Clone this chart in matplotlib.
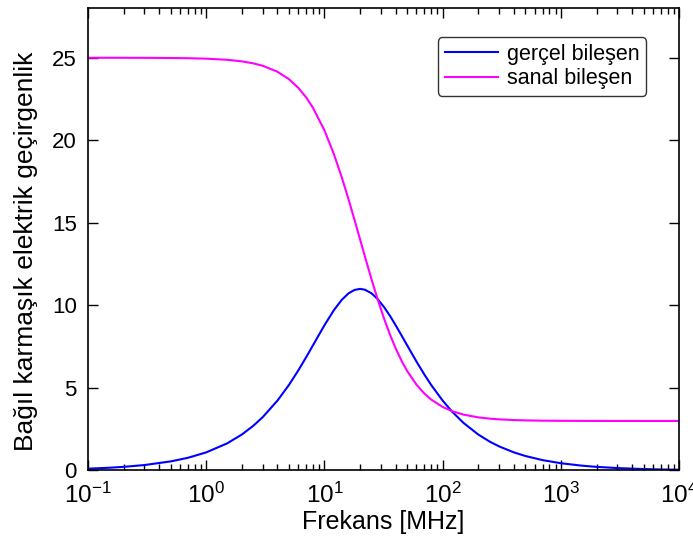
import matplotlib
matplotlib.use("Agg")
import matplotlib.pyplot as plt
from matplotlib.ticker import LogLocator, NullFormatter, FixedLocator

plt.rcParams['font.family'] = ['Liberation Sans', 'DejaVu Sans']
plt.rcParams['mathtext.fontset'] = 'custom'
plt.rcParams['mathtext.rm'] = 'Liberation Sans'
plt.rcParams['mathtext.it'] = 'Liberation Sans'
plt.rcParams['mathtext.default'] = 'regular'
plt.rcParams['axes.unicode_minus'] = False

freq_mhz = [0.1, 0.15, 0.2, 0.3, 0.5, 0.7, 1, 1.5, 2, 2.5, 3, 4, 5, 6, 7, 8, 10, 12, 14, 16,
            18, 20, 22, 25, 28, 32, 36, 40, 45, 50, 60, 70, 80, 100, 120, 150, 200, 250,
            300, 400, 500, 700, 1000, 1500, 2000, 3000, 5000, 7000, 10000]
gercel = [0.110, 0.165, 0.220, 0.330, 0.550, 0.769, 1.097, 1.641, 2.178, 2.708, 3.227, 4.231,
          5.176, 6.055, 6.860, 7.586, 8.800, 9.706, 10.336, 10.732, 10.939, 11.000, 10.950,
          10.732, 10.405, 9.888, 9.340, 8.800, 8.165, 7.586, 6.600, 5.811, 5.176, 4.231,
          3.568, 2.882, 2.178, 1.749, 1.460, 1.097, 0.879, 0.628, 0.440, 0.293, 0.220,
          0.147, 0.088, 0.063, 0.044]
sanal = [25.000, 25.000, 24.998, 24.995, 24.986, 24.973, 24.945, 24.877, 24.782, 24.662,
         24.516, 24.154, 23.706, 23.183, 22.599, 21.966, 20.600, 19.176, 17.765, 16.415,
         15.155, 14.000, 12.955, 11.585, 10.432, 9.180, 8.189, 7.400, 6.629, 6.034, 5.200,
         4.660, 4.294, 3.846, 3.595, 3.384, 3.218, 3.140, 3.097, 3.055, 3.035, 3.018,
         3.009, 3.004, 3.002, 3.001, 3.000, 3.000, 3.000]
series_labels = ['gerçel bileşen', 'sanal bileşen']
y_ticks = [0, 5, 10, 15, 20, 25]
x_ticks = [0.1, 1, 10, 100, 1000, 10000]
x_ticklabels = ['$10^{-1}$', '$10^{0}$', '$10^{1}$', '$10^{2}$', '$10^{3}$', '$10^{4}$']

fig = plt.figure(figsize=(6.93, 5.49), dpi=100)
ax = fig.add_axes([0.127, 0.143, 0.853, 0.842])
ax.plot(freq_mhz, gercel, color='#0000ff', lw=1.5, label=series_labels[0])
ax.plot(freq_mhz, sanal, color='#ff00ff', lw=1.5, label=series_labels[1])
ax.set_xscale('log')
ax.set_xlim(0.1, 10000)
ax.set_ylim(0, 28)
ax.yaxis.set_major_locator(FixedLocator(y_ticks))
ax.set_xticks(x_ticks)
ax.set_xticklabels(x_ticklabels)
ax.xaxis.set_minor_locator(LogLocator(base=10, subs=range(2, 10), numticks=100))
ax.xaxis.set_minor_formatter(NullFormatter())
ax.tick_params(which='both', direction='in', top=True, right=True, width=1)
ax.tick_params(which='major', length=7)
ax.tick_params(which='minor', length=4)
ax.tick_params(axis='x', which='major', pad=9, labelsize=17.5)
ax.tick_params(axis='y', which='major', pad=8, labelsize=16)
for s in ax.spines.values():
    s.set_linewidth(1.2)
ax.set_xlabel('Frekans [MHz]', fontsize=18, labelpad=1)
ax.set_ylabel('Bağıl karmaşık elektrik geçirgenlik', fontsize=19)
ax.yaxis.set_label_coords(-0.085, 0.474)
leg = ax.legend(loc='upper right', bbox_to_anchor=(0.944, 0.937), fontsize=15.5,
                handlelength=2.5, frameon=True, fancybox=True, edgecolor='black',
                borderpad=0.3, labelspacing=0.15, handletextpad=0.4, borderaxespad=0)
leg.get_frame().set_linewidth(1.0)
fig.savefig('out.png', dpi=100)
